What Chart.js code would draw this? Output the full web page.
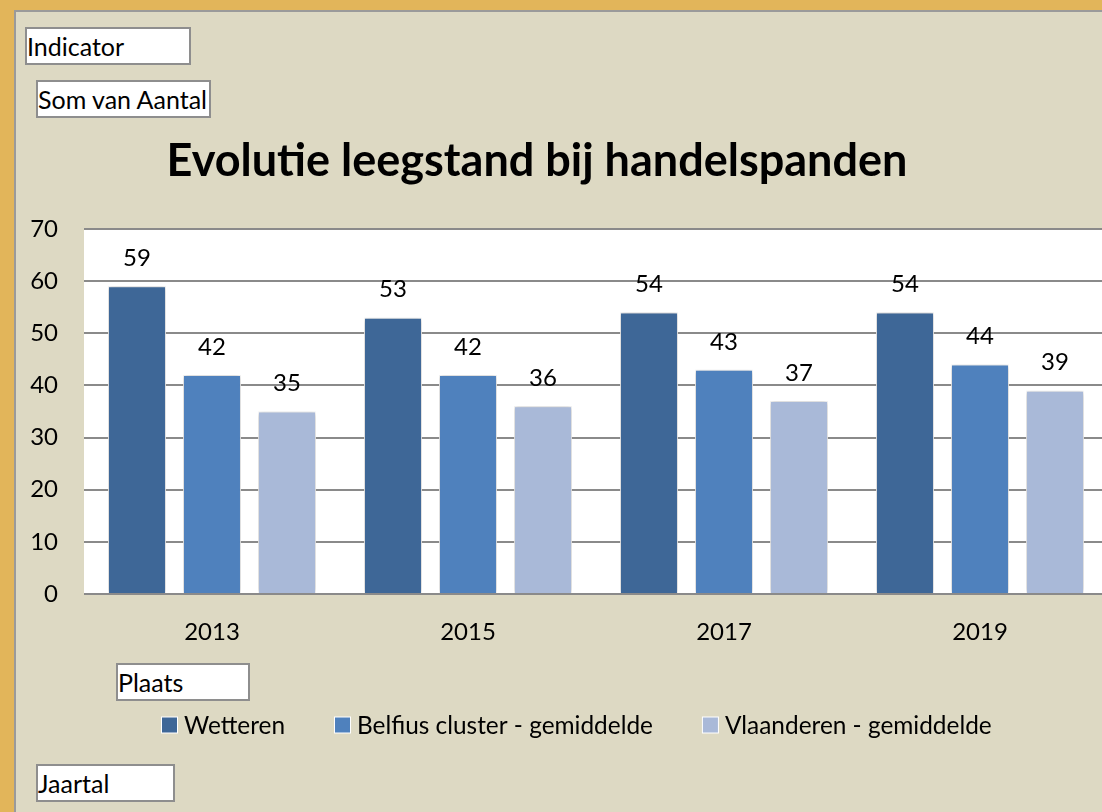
<!DOCTYPE html>
<html>
<head>
<meta charset="utf-8">
<script src="https://cdn.jsdelivr.net/npm/chart.js@4"></script>
<style>
  html, body { margin: 0; padding: 0; width: 1102px; height: 812px; overflow: hidden; background: #E2B55A; }
  #panel { position: absolute; left: 14px; top: 10px; width: 1200px; height: 900px; background: #DDD9C3; border-top: 2px solid #9a9a9a; border-left: 2px solid #9a9a9a; }
  #c { position: absolute; left: 0; top: 0; }
  .fld { position: absolute; background: #fff; border: 2px solid #8e8e8e; box-sizing: border-box; font-family: Lato, "Open Sans", sans-serif; font-size: 25px; color: #000; line-height: 34px; padding-left: 0; white-space: nowrap; }
</style>
</head>
<body>
<div id="panel"></div>
<div class="fld" style="left:25px;top:27px;width:166px;height:38px;">Indicator</div>
<div class="fld" style="left:36px;top:80px;width:175px;height:38px;">Som van Aantal</div>
<div class="fld" style="left:116px;top:663px;width:134px;height:38px;">Plaats</div>
<div class="fld" style="left:36px;top:764px;width:139px;height:38px;">Jaartal</div>
<canvas id="c" width="1120" height="812"></canvas>
<script>
const titleText = 'Evolutie leegstand bij handelspanden';
const categories = ['2013', '2015', '2017', '2019'];
const seriesNames = ['Wetteren', 'Belfius cluster - gemiddelde', 'Vlaanderen - gemiddelde'];
const wetteren = [59, 53, 54, 54];
const belfius = [42, 42, 43, 44];
const vlaanderen = [35, 36, 37, 39];
const seriesColors = ['#3E6797', '#4F81BD', '#A9B9D8'];
const yTicks = [0, 10, 20, 30, 40, 50, 60, 70];

const FONT = 'Lato, "Open Sans", sans-serif';

const decorPlugin = {
  id: 'decor',
  beforeDatasetsDraw(chart) {
    const ctx = chart.ctx;
    ctx.save();
    ctx.font = 'bold 45px ' + FONT;
    ctx.fillStyle = '#000';
    ctx.textAlign = 'center';
    ctx.textBaseline = 'alphabetic';
    ctx.fillText(titleText, 537, 176);
    ctx.restore();
  },
  beforeDatasetDraw(chart) {
    const ctx = chart.ctx;
    ctx.save();
    ctx.shadowColor = 'rgba(0,0,0,0.28)';
    ctx.shadowBlur = 5;
    ctx.shadowOffsetX = 0;
    ctx.shadowOffsetY = 0;
  },
  afterDatasetDraw(chart) {
    chart.ctx.restore();
  },
  afterDatasetsDraw(chart) {
    const ctx = chart.ctx;
    ctx.save();
    ctx.font = '24px ' + FONT;
    ctx.fillStyle = '#000';
    ctx.textAlign = 'center';
    ctx.textBaseline = 'middle';
    chart.data.datasets.forEach((ds, i) => {
      const meta = chart.getDatasetMeta(i);
      meta.data.forEach((bar, j) => {
        ctx.fillText(String(ds.data[j]), bar.x, bar.y - 28);
      });
    });
    // legend
    ctx.font = '24.4px ' + FONT;
    let x = 162;
    const y = 725;
    chart.data.datasets.forEach((ds) => {
      ctx.fillStyle = '#fff';
      ctx.fillRect(x - 1, y - 8.5, 17, 17);
      ctx.fillStyle = ds.backgroundColor;
      ctx.fillRect(x, y - 7.5, 15, 15);
      ctx.fillStyle = '#000';
      ctx.textAlign = 'left';
      ctx.fillText(ds.label, x + 22, y + 1);
      x += 22 + ctx.measureText(ds.label).width + 50;
    });
    ctx.restore();
  }
};

new Chart(document.getElementById('c'), {
  type: 'bar',
  data: {
    labels: categories,
    datasets: [
      { label: seriesNames[0], data: wetteren, backgroundColor: seriesColors[0] },
      { label: seriesNames[1], data: belfius, backgroundColor: seriesColors[1] },
      { label: seriesNames[2], data: vlaanderen, backgroundColor: seriesColors[2] }
    ].map(d => Object.assign(d, { borderColor: 'rgba(255,255,255,0.9)', borderWidth: 1, categoryPercentage: 0.879, barPercentage: 0.773 }))
  },
  options: {
    responsive: false,
    animation: false,
    layout: { padding: { top: 229, right: 12, bottom: 0, left: 0 } },
    plugins: { legend: { display: false }, title: { display: false }, tooltip: { enabled: false } },
    scales: {
      x: {
        grid: { display: false },
        border: { display: false },
        ticks: { color: '#000', font: { family: FONT, size: 24 }, padding: 16 },
        afterFit(s) { s.height = 218; }
      },
      y: {
        min: 0, max: 70,
        afterBuildTicks(s) { s.ticks = yTicks.map(v => ({ value: v })); },
        grid: { color: '#8a8a8a', lineWidth: 2, drawTicks: false },
        border: { display: false },
        ticks: { color: '#000', font: { family: FONT, size: 24 }, padding: 26 },
        afterFit(s) { s.width = 84; }
      }
    }
  },
  plugins: [decorPlugin, {
    id: 'plotBg',
    beforeDraw(chart) {
      const a = chart.chartArea;
      chart.ctx.save();
      chart.ctx.fillStyle = '#fff';
      chart.ctx.fillRect(a.left, a.top, a.right - a.left, a.bottom - a.top);
      chart.ctx.restore();
    }
  }]
});
</script>
</body>
</html>
